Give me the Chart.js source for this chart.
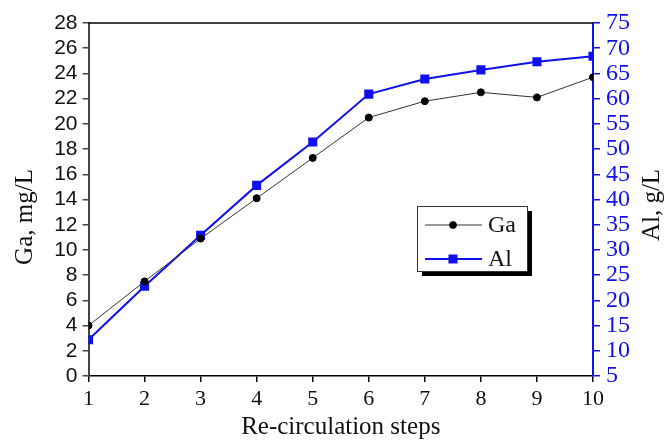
<!DOCTYPE html>
<html>
<head>
<meta charset="utf-8">
<script src="https://cdn.jsdelivr.net/npm/chart.js@4.4.1/dist/chart.umd.min.js"></script>
<style>
  html, body { margin: 0; padding: 0; background: #fff; }
  #wrap { width: 664px; height: 442px; }
</style>
</head>
<body>
<div id="wrap"><canvas id="graph" width="664" height="442"></canvas></div>
<script>
// x categories and both series
const steps = ['1', '2', '3', '4', '5', '6', '7', '8', '9', '10']
const gaValues = [4.0, 7.5, 10.9, 14.1, 17.3, 20.5, 21.8, 22.5, 22.1, 23.7]   // mg/L, left axis
const alValues = [12.2, 22.8, 32.9, 42.8, 51.4, 60.9, 63.9, 65.7, 67.3, 68.4] // g/L, right axis

const leftTitle = 'Ga, mg/L'
const rightTitle = 'Al, g/L'
const bottomTitle = 'Re-circulation steps'

const BLUE = '#1010ee'
const serif = "'Liberation Serif', 'Times New Roman', serif"
const sans = "'Liberation Sans', Arial, sans-serif"

// top edge of the frame + the rotated axis titles + the boxed legend
const extras = {
  id: 'extras',
  afterDraw(chart) {
    const ctx = chart.ctx
    const a = chart.chartArea
    ctx.save()

    // top frame line
    ctx.strokeStyle = '#000'
    ctx.lineWidth = 1.5
    ctx.beginPath()
    ctx.moveTo(a.left, a.top)
    ctx.lineTo(a.right, a.top)
    ctx.stroke()

    // axis titles, both reading bottom-to-top
    ctx.font = '25px ' + serif
    ctx.textAlign = 'center'
    ctx.textBaseline = 'middle'
    ctx.fillStyle = '#111'
    ctx.translate(25, 217)
    ctx.rotate(-Math.PI / 2)
    ctx.fillText(leftTitle, 0, 0)
    ctx.setTransform(1, 0, 0, 1, 0, 0)
    ctx.translate(652, 205)
    ctx.rotate(-Math.PI / 2)
    ctx.fillText(rightTitle, 0, 0)
    ctx.setTransform(1, 0, 0, 1, 0, 0)

    // legend box with drop shadow
    const bx = 417, by = 206, bw = 110, bh = 65
    ctx.fillStyle = '#000'
    ctx.fillRect(bx + 5, by + 5, bw, bh)
    ctx.fillStyle = '#fff'
    ctx.fillRect(bx, by, bw, bh)
    ctx.strokeStyle = '#333'
    ctx.lineWidth = 1
    ctx.strokeRect(bx + 0.5, by + 0.5, bw, bh)

    ctx.font = '24px ' + serif
    ctx.textAlign = 'left'
    chart.data.datasets.forEach(function(ds, i) {
      const ly = by + 19 + i * 34
      ctx.strokeStyle = ds.borderColor
      ctx.lineWidth = ds.borderWidth
      ctx.beginPath()
      ctx.moveTo(bx + 8, ly)
      ctx.lineTo(bx + 65, ly)
      ctx.stroke()
      Chart.helpers.drawPoint(ctx, {
        pointStyle: ds.pointStyle,
        radius: ds.pointRadius,
        borderWidth: 1
      }, bx + 36, ly)
      ctx.fillStyle = ds.pointBackgroundColor
      ctx.strokeStyle = ds.pointBorderColor
      ctx.fill()
      ctx.fillStyle = '#111'
      ctx.fillText(ds.label, bx + 71, ly + 1)
    })
    ctx.restore()
  }
}

const config = {
  type: 'line',
  data: {
    labels: steps,
    datasets: [{
      label: 'Ga',
      data: gaValues,
      yAxisID: 'y',
      borderColor: '#333',
      borderWidth: 1,
      pointStyle: 'circle',
      pointRadius: 3.5,
      pointBackgroundColor: '#000',
      pointBorderColor: '#000',
      clip: 0,
      tension: 0
    },
    {
      label: 'Al',
      data: alValues,
      yAxisID: 'y1',
      borderColor: BLUE,
      borderWidth: 2,
      pointStyle: 'rect',
      pointRadius: 5,
      pointBackgroundColor: BLUE,
      pointBorderColor: BLUE,
      clip: 0,
      tension: 0
    }]
  },
  options: {
    responsive: false,
    animation: false,
    layout: { padding: { top: 23, left: 0, right: 0, bottom: 0 } },
    plugins: { legend: { display: false }, tooltip: { enabled: false } },
    scales: {
      x: {
        offset: false,
        grid: { drawOnChartArea: false, tickLength: 6, color: '#000', lineWidth: 1.5 },
        border: { color: '#000', width: 1.5 },
        ticks: { color: '#111', font: { family: serif, size: 22 }, padding: 4, maxRotation: 0, autoSkip: false },
        title: { display: true, text: bottomTitle, color: '#111', font: { family: serif, size: 25 }, padding: { top: 3, bottom: 0 } },
        afterFit: function(scale) { scale.height = 66 }
      },
      y: {
        position: 'left',
        min: 0,
        max: 28,
        ticks: { stepSize: 2, color: '#111', font: { family: sans, size: 21 }, padding: 5, autoSkip: false },
        grid: { drawOnChartArea: false, tickLength: 6, color: '#444', lineWidth: 1.5 },
        border: { color: '#444', width: 2 },
        afterFit: function(scale) { scale.width = 88.5 }
      },
      y1: {
        position: 'right',
        min: 5,
        max: 75,
        ticks: { stepSize: 5, color: BLUE, font: { family: serif, size: 24 }, padding: 6, autoSkip: false },
        grid: { drawOnChartArea: false, tickLength: 7, color: BLUE, lineWidth: 1.5 },
        border: { color: BLUE, width: 2 },
        afterFit: function(scale) { scale.width = 71 }
      }
    }
  },
  plugins: [extras]
}

new Chart(document.getElementById('graph'), config)
</script>
</body>
</html>
